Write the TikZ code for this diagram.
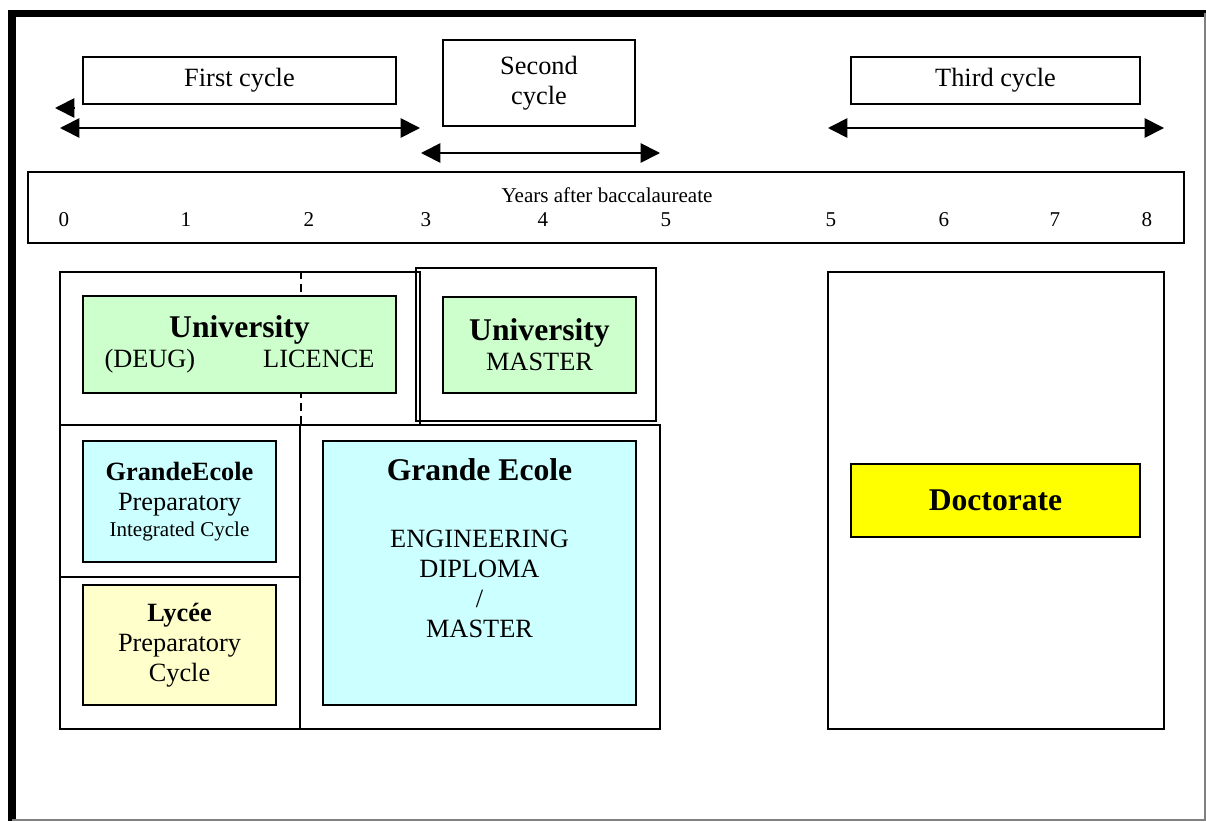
\documentclass[tikz,border=0pt]{standalone}
\usepackage{fontspec}
\setmainfont{Liberation Serif}
\usetikzlibrary{arrows.meta,fit}

\definecolor{unigreen}{HTML}{CCFFCC}
\definecolor{ecolecyan}{HTML}{CCFFFF}
\definecolor{lyceeyellow}{HTML}{FFFFCC}
\definecolor{doctyellow}{HTML}{FFFF00}

\begin{document}
\begin{tikzpicture}[x=0.02cm, y=-0.02cm,
    font=\fontsize{15}{17}\selectfont,
    stagebox/.style={draw, line width=1pt, inner sep=0pt},
    stagetext/.style={align=center, inner sep=0pt},
    yearfont/.style={font=\fontsize{12}{14}\selectfont},
    headtip/.style={line width=1pt, -{Triangle[length=11pt,width=11pt]}},
    cyclespan/.style={line width=1pt, {Triangle[length=11pt,width=11pt]}-{Triangle[length=11pt,width=11pt]}}]

  \useasboundingbox (0,0) rectangle (1206,821);

  \draw[line width=4pt] (8,13.5) -- (1206,13.5);
  \draw[line width=4pt] (12,10) -- (12,821);
  \draw[gray, line width=0.6pt] (1205,13) -- (1205,820) -- (12,820);

  \node[stagebox, fit={(83,57) (396,104)}] (first) {};
  \node[stagebox, fit={(443,40) (635,126)}] (second) {};
  \node[stagebox, fit={(851,57) (1140,104)}] (third) {};
  \node[stagetext] (firstlbl) at (first) {First cycle};
  \node[stagetext] (secondlbl) at (second) {Second\\cycle};
  \node[stagetext] (thirdlbl) at (third) {Third cycle};

  \coordinate (lone) at (74,108);
  \coordinate (lonetip) at (55,108);
  \coordinate (f0) at (60,128);
  \coordinate (f3) at (420,128);
  \coordinate (s3) at (421,153);
  \coordinate (s5) at (660,153);
  \coordinate (t5) at (828,128);
  \coordinate (t8) at (1164,128);
  \draw[headtip] (lone) -- (lonetip);
  \draw[cyclespan] (f0) -- (f3);
  \draw[cyclespan] (s3) -- (s5);
  \draw[cyclespan] (t5) -- (t8);

  \node[stagebox, line width=0.8pt, fit={(28,172) (1184,243)}] (years) {};
  \node[yearfont, anchor=base] (yearslbl) at (607,202) {Years after baccalaureate};
  \foreach \x/\n [count=\i] in {64/0,186/1,309/2,426/3,543/4,666/5,831/5,944/6,1055/7,1147/8}
    \node[yearfont, anchor=base] (yr\i) at (\x,226) {\n};

  \node[stagebox, fit={(60,272) (420,425)}] (uniframe) {};
  \node[stagebox, fit={(416,268) (656,421)}] (masterframe) {};
  \node[stagebox, fit={(60,425) (300,577)}] (prepframe) {};
  \node[stagebox, fit={(60,577) (300,729)}] (lyceeframe) {};
  \node[stagebox, fit={(300,425) (660,729)}] (ecoleframe) {};
  \node[stagebox, fit={(828,272) (1164,729)}] (doctframe) {};
  \draw[line width=1pt, dash pattern=on 4.5pt off 3pt] (prepframe.north east) -- (prepframe.north east |- uniframe.north);

  \node[stagebox, fill=unigreen, fit={(83,296) (396,393)}] (licence) {};
  \node[stagebox, fill=unigreen, fit={(443,297) (636,393)}] (master) {};
  \node[stagebox, fill=ecolecyan, fit={(83,441) (276,562)}] (prepint) {};
  \node[stagebox, fill=lyceeyellow, fit={(83,585) (276,705)}] (lycee) {};
  \node[stagebox, fill=ecolecyan, fit={(323,441) (636,705)}] (ecole) {};
  \node[stagebox, fill=doctyellow, fit={(851,464) (1140,537)}] (doct) {};

  \node[stagetext] (licencelbl) at (licence)
    {{\bfseries\fontsize{18}{20}\selectfont University}\\(DEUG)\hspace{1.36cm}LICENCE};
  \node[stagetext] (masterlbl) at (master)
    {{\bfseries\fontsize{18}{20}\selectfont University}\\MASTER};
  \node[stagetext] (prepintlbl) at (prepint)
    {{\bfseries GrandeEcole}\\Preparatory\\[-2pt]{\fontsize{12}{14}\selectfont Integrated Cycle}};
  \node[stagetext] (lyceelbl) at (lycee)
    {{\bfseries Lycée}\\Preparatory\\Cycle};
  \node[stagetext, anchor=north] (ecolelbl) at (479.5,458)
    {{\bfseries\fontsize{18}{20}\selectfont Grande Ecole}\\[21.5pt]ENGINEERING\\DIPLOMA\\/\\MASTER};
  \node[stagetext] (doctlbl) at (doct)
    {\bfseries\fontsize{18}{20}\selectfont Doctorate};

\end{tikzpicture}
\end{document}
